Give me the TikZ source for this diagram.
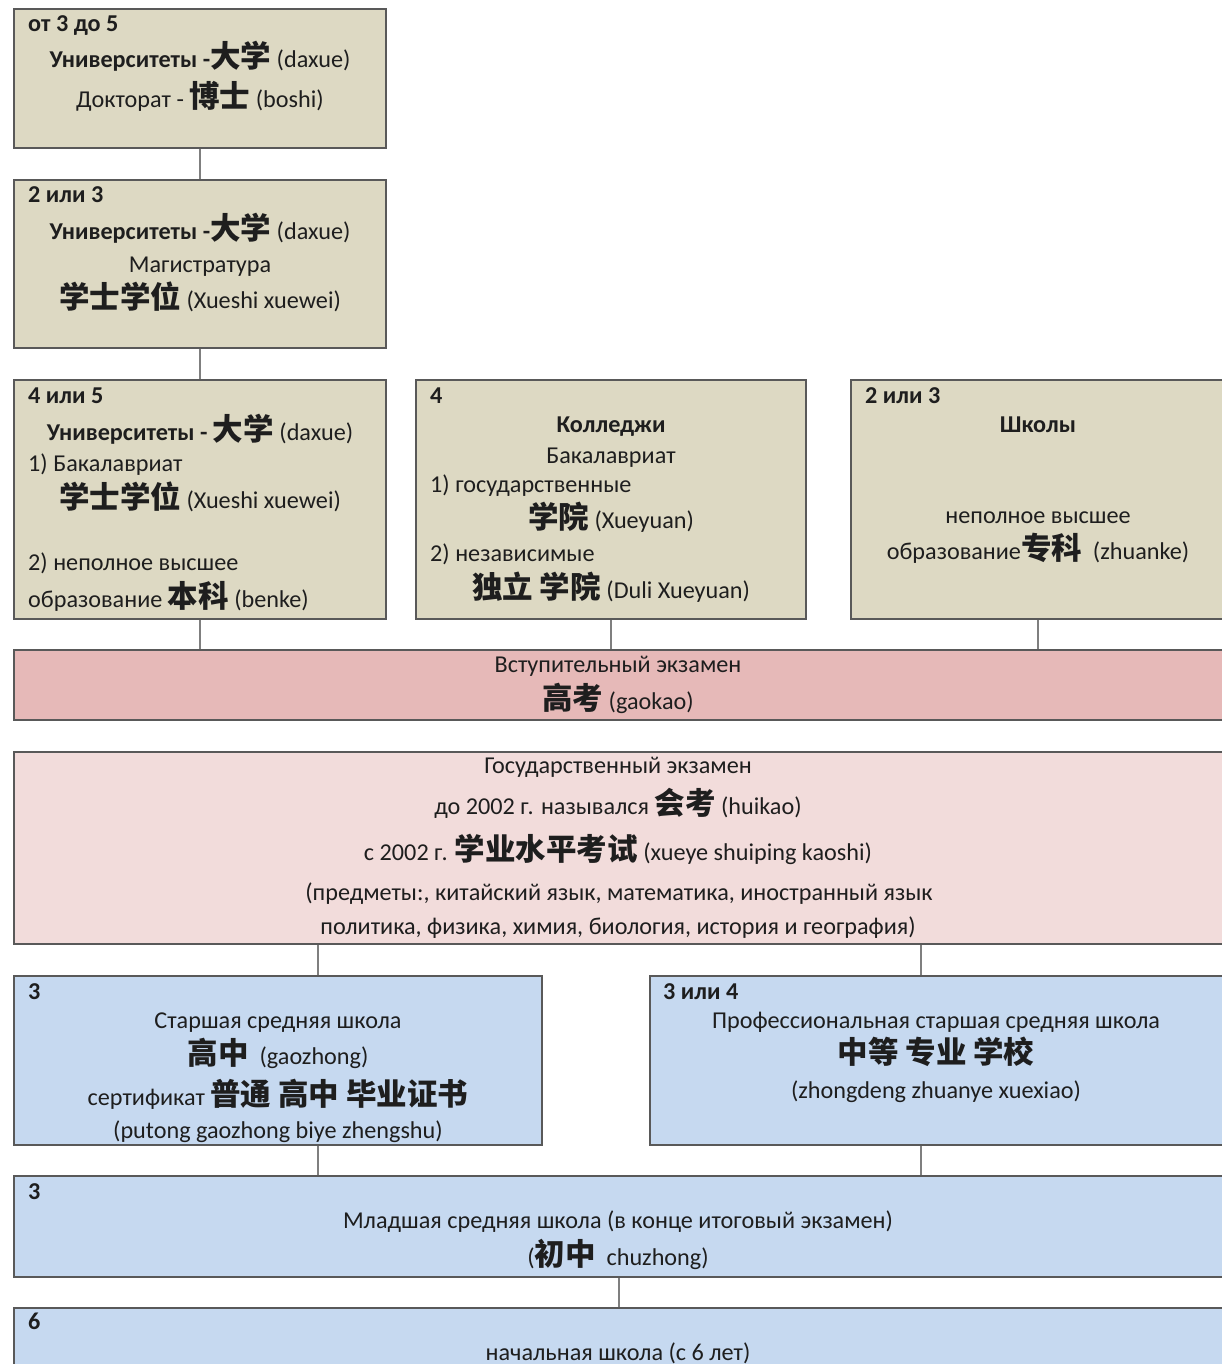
\documentclass[tikz,border=0pt]{standalone}
\usepackage{fontspec}
\setmainfont{Carlito}
\newfontfamily\cjkfont{Noto Sans CJK SC}
\usepackage{tikz}
\usetikzlibrary{calc,positioning}
\definecolor{tanfill}{HTML}{DDD9C3}
\definecolor{redfill}{HTML}{E6B9B8}
\definecolor{rosefill}{HTML}{F2DCDB}
\definecolor{bluefill}{HTML}{C6D9F0}
\definecolor{boxgray}{HTML}{595959}
\definecolor{linegray}{HTML}{7F7F7F}
\definecolor{txtgray}{HTML}{1E1E1E}
\newcommand{\zh}[1]{{\cjkfont\bfseries\fontsize{30.5pt}{31pt}\selectfont #1}}

\begin{document}
\begin{tikzpicture}[x=1pt, y=-1pt, font=\fontsize{24.2pt}{28pt}\selectfont,
    conn/.style={draw=linegray, line width=1.6pt}]
   \useasboundingbox (0,0) rectangle (1222,1364);
   % boxes
   \begin{scope}[every node/.style={rectangle,draw=boxgray,line width=1.6pt,inner sep=0pt}]
    \node (doc)  [fill=tanfill, minimum width=372pt, minimum height=139pt] at (200,78.5) {};
    \node (mag)  [fill=tanfill, minimum width=372pt, minimum height=168pt] at (200,264) {};
    \node (bak)  [fill=tanfill, minimum width=372pt, minimum height=239pt] at (200,499.5) {};
    \node (col)  [fill=tanfill, minimum width=390pt, minimum height=239pt] at (611,499.5) {};
    \node (shk)  [fill=tanfill, minimum width=374pt, minimum height=239pt] at (1038,499.5) {};
    \node (gk)   [fill=redfill, minimum width=1210pt, minimum height=70pt] at (619,685) {};
    \node (ge)   [fill=rosefill, minimum width=1210pt, minimum height=192pt] at (619,848) {};
    \node (sr)   [fill=bluefill, minimum width=528pt, minimum height=169pt] at (278,1060.5) {};
    \node (prof) [fill=bluefill, minimum width=574pt, minimum height=169pt] at (937,1060.5) {};
    \node (ml)   [fill=bluefill, minimum width=1210pt, minimum height=101pt] at (619,1226.5) {};
    \node (nach) [fill=bluefill, minimum width=1210pt, minimum height=92pt] at (619,1354) {};
   \end{scope}
   % connectors
   \draw[conn] (doc) -- (mag);
   \draw[conn] (mag) -- (bak);
   \draw[conn] (bak.south) -- (bak.south |- gk.north);
   \draw[conn] (col.south) -- (col.south |- gk.north);
   \draw[conn] (shk.south) -- (shk.south |- gk.north);
   \draw[conn] ([xshift=40pt]sr.north) -- ([xshift=40pt]sr.north |- ge.south);
   \draw[conn] ([xshift=-16pt]prof.north) -- ([xshift=-16pt]prof.north |- ge.south);
   \draw[conn] ([xshift=40pt]sr.south) -- ([xshift=40pt]sr.south |- ml.north);
   \draw[conn] ([xshift=-16pt]prof.south) -- ([xshift=-16pt]prof.south |- ml.north);
   \draw[conn] (ml) -- (nach);
   % texts
   \begin{scope}[every node/.style={inner sep=0pt,text=txtgray,anchor=base,yshift=-8pt},
       lft/.style={anchor=base west}]
    \node (doc0) [lft] at (28,24) {\bfseries от 3 до 5};
    \node (doc1) at (200,60) {\bfseries Университеты -\zh{大学} \mdseries(daxue)};
    \node (doc2) at (200,100) {Докторат - \zh{博士} (boshi)};

    \node (mag0) [lft] at (28,195) {\bfseries 2 или 3};
    \node (mag1) at (200,232) {\bfseries Университеты -\zh{大学} \mdseries(daxue)};
    \node (mag2) at (200,264) {Магистратура};
    \node (mag3) at (200,300) {\zh{学士学位} (Xueshi xuewei)};

    \node (bak0) [lft] at (28,395) {\bfseries 4 или 5};
    \node (bak1) at (200,432) {\bfseries Университеты - \zh{大学} \mdseries(daxue)};
    \node (bak2) [lft] at (28,463) {1) Бакалавриат};
    \node (bak3) at (200,500) {\zh{学士学位} (Xueshi xuewei)};
    \node (bak4) [lft] at (28,562) {2) неполное высшее};
    \node (bak5) [lft] at (28,599) {образование \zh{本科} (benke)};

    \node (col0) [lft] at (430,395) {\bfseries 4};
    \node (col1) at (611,424) {\bfseries Колледжи};
    \node (col2) at (611,455) {Бакалавриат};
    \node (col3) [lft] at (430,484) {1) государственные};
    \node (col4) at (611,520) {\zh{学院} (Xueyuan)};
    \node (col5) [lft] at (430,553) {2) независимые};
    \node (col6) at (611,590) {\zh{独立 学院} (Duli Xueyuan)};

    \node (shk0) [lft] at (865,395) {\bfseries 2 или 3};
    \node (shk1) at (1038,424) {\bfseries Школы};
    \node (shk2) at (1038,515) {неполное высшее};
    \node (shk3) at (1038,551) {образование\zh{专科}\ \ (zhuanke)};

    \node (gk1) at (618,664) {Вступительный экзамен};
    \node (gk2) at (618,701) {\zh{高考} (gaokao)};

    \node (ge1) at (618,765) {Государственный экзамен};
    \node (ge2) at (618,806) {до 2002 г. назывался \zh{会考} (huikao)};
    \node (ge3) at (618,852) {с 2002 г. \zh{学业水平考试} (xueye shuiping kaoshi)};
    \node (ge4) at (619,892) {(предметы:, китайский язык, математика, иностранный язык};
    \node (ge5) at (618,926) {политика, физика, химия, биология, история и география)};

    \node (sr0) [lft] at (28,991) {\bfseries 3};
    \node (sr1) at (278,1020) {Старшая средняя школа};
    \node (sr2) at (278,1056) {\zh{高中}\ \ (gaozhong)};
    \node (sr3) at (278,1097) {сертификат \zh{普通 高中 毕业证书}};
    \node (sr4) at (278,1130) {(putong gaozhong biye zhengshu)};

    \node (prof0) [lft] at (663,991) {\bfseries 3 или 4};
    \node (prof1) at (936,1020) {Профессиональная старшая средняя школа};
    \node (prof2) at (936,1055) {\zh{中等 专业 学校}};
    \node (prof3) at (936,1090) {(zhongdeng zhuanye xuexiao)};

    \node (ml0) [lft] at (28,1191) {\bfseries 3};
    \node (ml1) at (618,1220) {Младшая средняя школа (в конце итоговый экзамен)};
    \node (ml2) at (618,1257) {(\zh{初中}\ \ chuzhong)};

    \node (nach0) [lft] at (28,1321) {\bfseries 6};
    \node (nach1) at (618,1352) {начальная школа (с 6 лет)};
   \end{scope}
\end{tikzpicture}
\end{document}
